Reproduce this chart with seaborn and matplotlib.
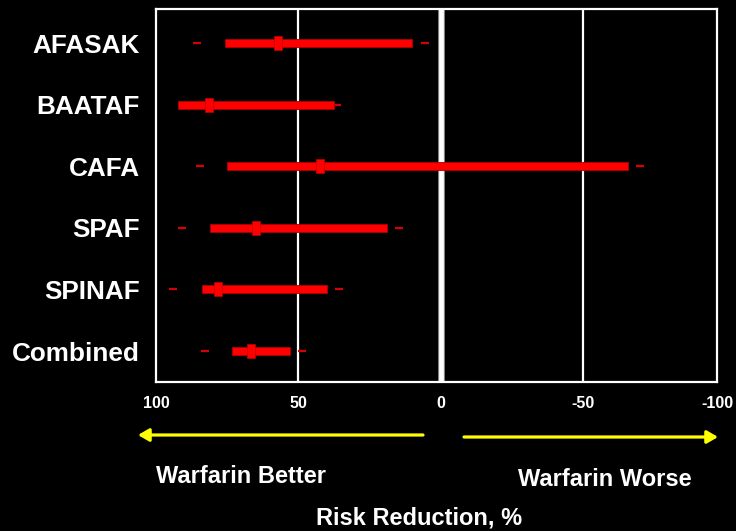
import numpy as np
import pandas as pd
import matplotlib
matplotlib.use("Agg")
import matplotlib.pyplot as plt
from matplotlib.path import Path
import seaborn as sns

# Trials and their risk reduction estimates (%)
trials = ["AFASAK", "BAATAF", "CAFA", "SPAF", "SPINAF", "Combined"]
point_est = [57.3, 81.5, 42.3, 65.0, 78.1, 66.6]
bar_low = [75.9, 92.4, 74.9, 81.1, 83.7, 73.3]
bar_high = [10.2, 37.6, -65.6, 19.0, 39.9, 53.0]
outer_low = [85.6, 91.0, 84.7, 90.8, 94.0, 82.7]
outer_high = [5.6, 36.5, -69.9, 14.7, 35.9, 48.8]

tick_values = [100, 50, 0, -50, -97]
tick_labels = ["100", "50", "0", "-50", "-100"]

sns.set_theme(style="dark")
plt.rcParams["font.family"] = ["Liberation Sans", "DejaVu Sans"]
plt.rcParams["font.weight"] = "bold"

df = pd.DataFrame({
    "trial": trials,
    "pos": np.arange(len(trials)),
    "point": point_est,
    "low": bar_low,
    "high": bar_high,
})
ends = pd.DataFrame({
    "pos": np.concatenate([df["pos"], df["pos"]]),
    "value": outer_low + outer_high,
})

fig = plt.figure(figsize=(7.36, 5.31), dpi=100, facecolor="black")
ax = fig.add_axes([156 / 736, 1 - 382 / 531, (717 - 156) / 736, (382 - 9) / 531])
ax.set_facecolor("black")

# reference lines
for xv in (50, -50):
    ax.axvline(xv, color="white", lw=1.6, zorder=1)
ax.axvline(0, color="#9a9a9a", lw=4.8, zorder=1)
ax.axvline(0, color="white", lw=3.4, zorder=1.1)

# outer interval ends (kept beneath the bars)
sns.scatterplot(data=ends, x="value", y="pos", marker="_", s=33,
                color="#d80000", linewidth=1.6, ax=ax, zorder=2, legend=False)

# interval bars
ax.barh(df["pos"], df["high"] - df["low"], left=df["low"], height=0.13,
        color="#ff0000", edgecolor="#b00000", linewidth=0.6, zorder=3)

# point estimates as upright rectangles
rect = Path([(-0.62, -1), (0.62, -1), (0.62, 1), (-0.62, 1), (-0.62, -1)])
sns.scatterplot(data=df, x="point", y="pos", marker=rect, s=90,
                color="#ff0000", edgecolor="#c00000", linewidth=0.5,
                ax=ax, zorder=4, legend=False)

ax.set_xlim(100, -97)
ax.set_ylim(5.503, -0.552)
ax.set_xticks(tick_values)
ax.set_xticklabels(tick_labels, fontsize=11.5, fontweight="bold", color="white")
ax.set_yticks(df["pos"])
ax.set_yticklabels(trials, fontsize=18.8, fontweight="bold", color="white")
ax.tick_params(axis="x", length=0, pad=10)
ax.tick_params(axis="y", length=0, pad=11.5)
ax.set_xlabel("")
ax.set_ylabel("")
ax.grid(False)
for sp in ax.spines.values():
    sp.set_visible(True)
    sp.set_color("white")
    sp.set_linewidth(1.6)

# direction arrows
arrow_kw = dict(arrowstyle="-|>,head_length=0.65,head_width=0.38",
                color="#ffff00", lw=2.3, mutation_scale=10, shrinkA=0, shrinkB=0)
ax.annotate("", xy=(138, 531 - 435), xytext=(423, 531 - 435),
            xycoords="figure pixels", textcoords="figure pixels", arrowprops=arrow_kw)
ax.annotate("", xy=(718, 531 - 437), xytext=(464, 531 - 437),
            xycoords="figure pixels", textcoords="figure pixels", arrowprops=arrow_kw)

fig.text(241 / 736, 1 - 483 / 531, "Warfarin Better", ha="center", va="baseline",
         fontsize=17, fontweight="bold", color="white")
fig.text(605 / 736, 1 - 486 / 531, "Warfarin Worse", ha="center", va="baseline",
         fontsize=17, fontweight="bold", color="white")
fig.text(419 / 736, 1 - 524 / 531, "Risk Reduction, %", ha="center", va="baseline",
         fontsize=17, fontweight="bold", color="white")

fig.savefig("out.png", dpi=100, facecolor="black")
